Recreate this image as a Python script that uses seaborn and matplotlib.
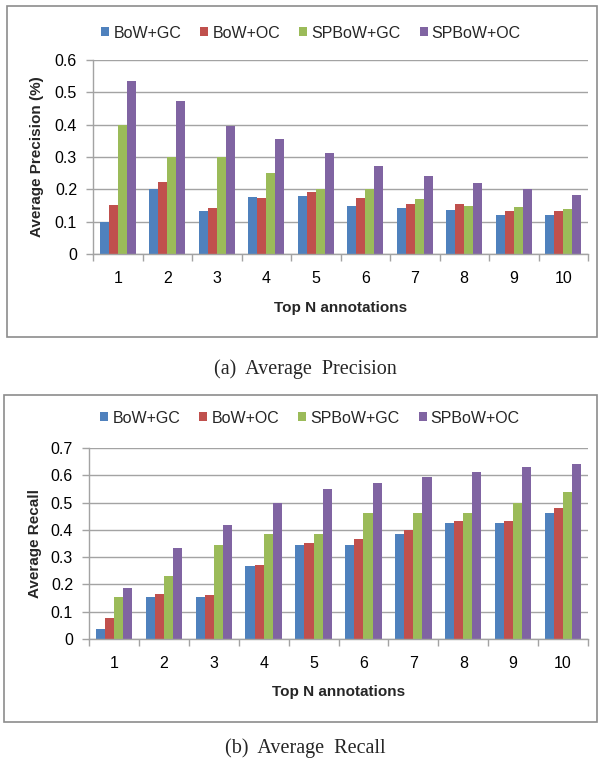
import numpy as np
import pandas as pd
import matplotlib
matplotlib.use("Agg")
import matplotlib.pyplot as plt
from matplotlib.patches import Rectangle
from matplotlib.ticker import FixedLocator, FuncFormatter
import seaborn as sns

# ---------------- data ----------------
top_n = ["1", "2", "3", "4", "5", "6", "7", "8", "9", "10"]
methods = ["BoW+GC", "BoW+OC", "SPBoW+GC", "SPBoW+OC"]

precision_bow_gc = [0.100, 0.200, 0.133, 0.175, 0.180, 0.150, 0.142, 0.137, 0.122, 0.120]
precision_bow_oc = [0.151, 0.222, 0.142, 0.172, 0.192, 0.172, 0.155, 0.155, 0.132, 0.133]
precision_spbow_gc = [0.400, 0.300, 0.300, 0.250, 0.200, 0.200, 0.171, 0.150, 0.144, 0.139]
precision_spbow_oc = [0.534, 0.474, 0.396, 0.356, 0.313, 0.271, 0.241, 0.219, 0.200, 0.182]

recall_bow_gc = [0.038, 0.153, 0.153, 0.269, 0.345, 0.345, 0.384, 0.424, 0.424, 0.461]
recall_bow_oc = [0.076, 0.165, 0.162, 0.270, 0.351, 0.368, 0.400, 0.432, 0.432, 0.479]
recall_spbow_gc = [0.153, 0.230, 0.345, 0.384, 0.384, 0.461, 0.461, 0.461, 0.500, 0.540]
recall_spbow_oc = [0.186, 0.332, 0.416, 0.499, 0.550, 0.572, 0.592, 0.613, 0.632, 0.643]

precision_ticks = [0, 0.1, 0.2, 0.3, 0.4, 0.5, 0.6]
recall_ticks = [0, 0.1, 0.2, 0.3, 0.4, 0.5, 0.6, 0.7]

colors = ["#4F81BD", "#C0504D", "#9BBB59", "#8064A2"]


def long_frame(series):
    rows = []
    for m, vals in zip(methods, series):
        for n, v in zip(top_n, vals):
            rows.append({"N": n, "method": m, "value": v})
    return pd.DataFrame(rows)


df_prec = long_frame([precision_bow_gc, precision_bow_oc, precision_spbow_gc, precision_spbow_oc])
df_rec = long_frame([recall_bow_gc, recall_bow_oc, recall_spbow_gc, recall_spbow_oc])

# ---------------- style ----------------
sns.set_theme(style="white")
plt.rcParams["font.family"] = ["Liberation Sans", "DejaVu Sans"]

W, H = 600, 760
fig = plt.figure(figsize=(W / 100, H / 100), dpi=100)

GRID = "#a3a3a3"


def px_axes(x0, y0, x1, y1):
    return fig.add_axes([x0 / W, 1 - y1 / H, (x1 - x0) / W, (y1 - y0) / H])


def style_axes(ax, ticks, ylabel, label_x_px):
    ax.set_ylim(0, ticks[-1])
    ax.set_xlim(-0.5, len(top_n) - 0.5)
    ax.yaxis.set_major_locator(FixedLocator(ticks))
    ax.yaxis.set_major_formatter(FuncFormatter(lambda v, p: "0" if abs(v) < 1e-9 else f"{v:.1f}"))
    ax.grid(axis="y", color=GRID, linewidth=1.0)
    ax.grid(axis="x", visible=False)
    ax.set_axisbelow(True)
    for s in ["top", "right"]:
        ax.spines[s].set_visible(False)
    for s in ["left", "bottom"]:
        ax.spines[s].set_color(GRID)
        ax.spines[s].set_linewidth(1.0)
    ax.tick_params(axis="y", which="major", left=True, length=5, width=1, color=GRID,
                   direction="out", pad=6.5, labelsize=11.5, labelcolor="black")
    ax.tick_params(axis="x", which="major", bottom=True, length=0, pad=12.5,
                   labelsize=11.5, labelcolor="black")
    ax.set_xticks(np.arange(-0.5, len(top_n), 1.0), minor=True)
    ax.tick_params(axis="x", which="minor", bottom=True, length=5, width=1, color=GRID,
                   direction="out")
    ax.set_xlabel("Top N annotations", fontsize=11, fontweight="bold", va="center")
    ax.xaxis.set_label_coords(0.5, -0.278)
    ax.set_ylabel(ylabel, fontsize=11, fontweight="bold", va="center")
    bb = ax.get_position()
    ax_x0 = bb.x0 * W
    ax.yaxis.set_label_coords((label_x_px - ax_x0) / (bb.width * W), 0.5)
    ax.patch.set_alpha(0)


def draw(ax, df):
    sns.barplot(data=df, x="N", y="value", hue="method", order=top_n, hue_order=methods,
                palette=colors, saturation=1, width=0.73, gap=0, errorbar=None, linewidth=0,
                legend=False, ax=ax)


ax1 = px_axes(93, 60, 588, 254)
draw(ax1, df_prec)
style_axes(ax1, precision_ticks, "Average Precision (%)", 37)

ax2 = px_axes(89, 448, 588, 639)
draw(ax2, df_rec)
style_axes(ax2, recall_ticks, "Average Recall", 34.5)

# legends
handles = [Rectangle((0, 0), 1, 1, facecolor=c, edgecolor="none") for c in colors]
for cx, cy in [(311, 33), (310, 418)]:
    fig.legend(handles, methods, loc="center", bbox_to_anchor=(cx / W, 1 - cy / H), ncol=4,
               frameon=False, fontsize=11.5, handlelength=0.5, handleheight=0.5,
               handletextpad=0.25, columnspacing=1.2, borderaxespad=0, borderpad=0)

# outer frames
for (x0, y0, x1, y1) in [(7, 6, 597, 337), (4, 395, 597, 722)]:
    fig.patches.append(Rectangle((x0 / W, 1 - y1 / H), (x1 - x0) / W, (y1 - y0) / H,
                                 transform=fig.transFigure, fill=False,
                                 edgecolor="#8c8c8c", linewidth=1.2))

# captions
fig.text(305 / W, 1 - 369 / H, "(a)  Average  Precision", ha="center", va="center",
         fontsize=14.5, family=["Liberation Serif", "DejaVu Serif"])
fig.text(305 / W, 1 - 748 / H, "(b)  Average  Recall", ha="center", va="center",
         fontsize=14.5, family=["Liberation Serif", "DejaVu Serif"])

fig.savefig("out.png", dpi=100)
